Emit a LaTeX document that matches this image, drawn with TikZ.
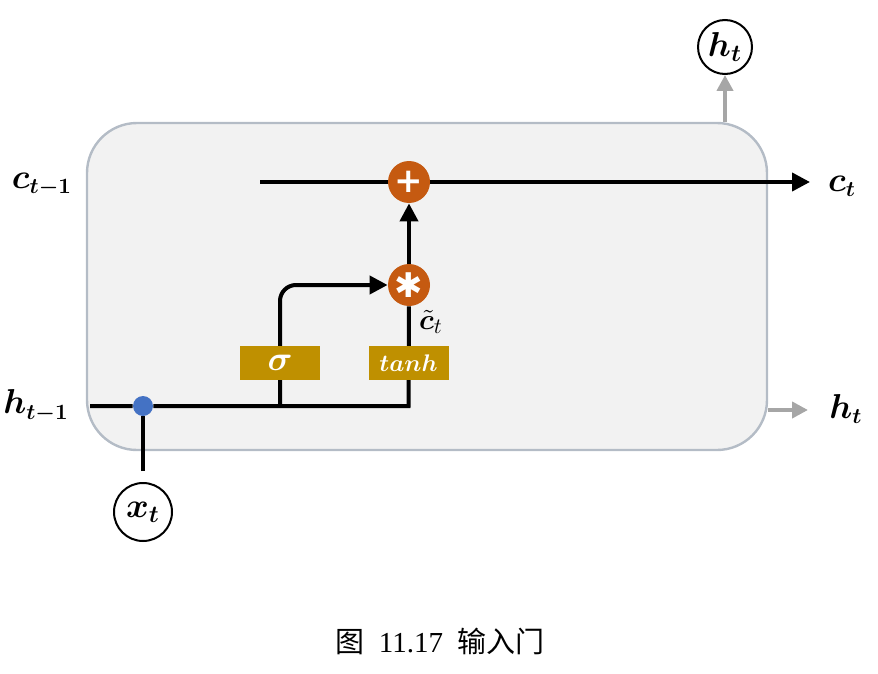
\documentclass[tikz,border=0pt]{standalone}
\usepackage{amsmath,bm}
\usepackage{fontspec}
\newfontfamily\cjk{Noto Sans CJK SC}
\newfontfamily\numfont{Liberation Serif}
\newfontfamily\symfont{DejaVu Sans Bold}
\usetikzlibrary{arrows.meta,backgrounds}
\definecolor{cellfill}{HTML}{F2F2F2}
\definecolor{celledge}{HTML}{B4BCC6}
\definecolor{opcol}{HTML}{C55A11}
\definecolor{gatecol}{HTML}{BF9000}
\definecolor{dotcol}{HTML}{4472C4}
\definecolor{passcol}{HTML}{A6A6A6}
\tikzset{
  wire/.style={line width=2pt},
  tip/.style={-{Triangle[length=9pt,width=9pt]}},
  passwire/.style={line width=2pt,draw=passcol,-{Triangle[length=8pt,width=8pt]}},
  opnode/.style={circle,fill=opcol,text=white,inner sep=0pt,minimum size=21pt,font=\symfont\fontsize{17}{17}\selectfont},
  gatebox/.style={rectangle,fill=gatecol,text=white,inner sep=0pt,minimum width=40pt,minimum height=17pt,font=\fontsize{17}{18}\selectfont},
  ionode/.style={circle,draw,line width=1pt,inner sep=0pt,font=\fontsize{17}{18}\selectfont},
  lab/.style={font=\fontsize{16}{18}\selectfont},
}
\begin{document}
\begin{tikzpicture}[x=0.5pt,y=-0.5pt]
\useasboundingbox (0,0) rectangle (878,674);
% operators and gates
\node[opnode] (add) at (409,182) {+};
\node[opnode] (mul) at (409,285) {✱};
\node[gatebox] (sig) at (280,363) {$\bm{\sigma}$};
\node[gatebox,font=\fontsize{13}{14}\selectfont] (tanh) at (408.5,363) {$\bm{tanh}$};
\node[circle,fill=dotcol,inner sep=0pt,minimum size=10pt] (mix) at (143,406) {};
% inputs and outputs
\node[ionode,minimum size=29pt] (xt) at (143,512) {$\bm{x}_{\bm{t}}$};
\node[ionode,minimum size=27pt] (ht) at (725,47) {$\bm{h}_{\bm{t}}$};
\coordinate (cin) at (260,182);
\coordinate (cout) at (810,182);
\coordinate (hin) at (90,406);
\coordinate (hout) at (808,410);
% labels
\node[lab] (cprev) at (42,185) {$\bm{c}_{\bm{t-1}}$};
\node[lab] (hprev) at (36,406) {$\bm{h}_{\bm{t-1}}$};
\node[lab] (cnext) at (842,186) {$\bm{c}_{\bm{t}}$};
\node[lab] (hnext) at (846,409) {$\bm{h}_{\bm{t}}$};
\node[lab,font=\fontsize{15}{16}\selectfont] (ctil) at (431,322) {$\tilde{\bm{c}}_t$};
\node[font=\fontsize{14.5}{16}\selectfont] (cap) at (440,641) {{\cjk 图}\enspace{\numfont 11.17}\enspace{\cjk 输入门}};
\begin{pgfonlayer}{background}
\node[rectangle,rounded corners=25pt,fill=cellfill,draw=celledge,line width=1.2pt,
  minimum width=340pt,minimum height=163.5pt] (cell) at (427,286.5) {};
\draw[wire] (cin) -- (add);
\draw[wire,tip] (add) -- (cout);
\draw[wire,tip] (mul) -- (add);
\draw[wire] (hin) -- (mix) -- (mix -| tanh) -- (mul);
\draw[wire,tip,rounded corners=8pt] (sig |- mix) -- (sig.center) -- (sig |- mul) -- (mul);
\draw[wire,shorten <=5.5pt] (xt) -- (mix);
\draw[passwire] (cell.north -| ht) -- (ht);
\draw[passwire] (cell.east |- hout) -- (hout);
\end{pgfonlayer}
\end{tikzpicture}
\end{document}
